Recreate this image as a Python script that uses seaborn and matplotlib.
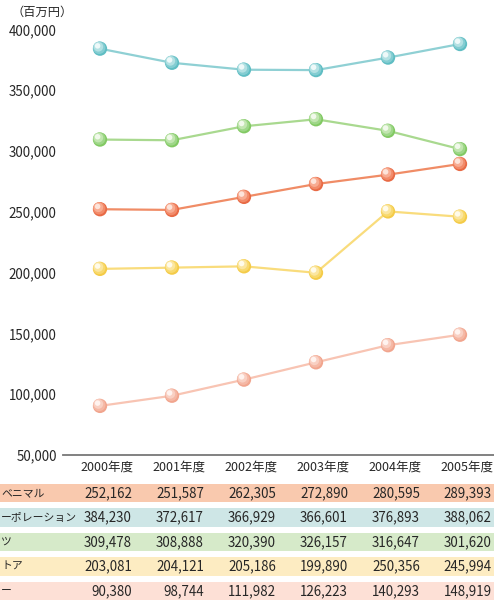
import pandas as pd
import matplotlib
matplotlib.use("Agg")
import matplotlib.pyplot as plt
from matplotlib.transforms import offset_copy
import seaborn as sns

# ---------------------------------------------------------------------------
# data (百万円)
# ---------------------------------------------------------------------------
years = ["2000年度", "2001年度", "2002年度", "2003年度", "2004年度", "2005年度"]
row_labels = ["ベニマル", "ーポレーション", "ツ", "トア", "ー"]

benimaru = [252162, 251587, 262305, 272890, 280595, 289393]
corporation = [384230, 372617, 366929, 366601, 376893, 388062]
tsu = [309478, 308888, 320390, 326157, 316647, 301620]
store = [203081, 204121, 205186, 199890, 250356, 245994]
choon = [90380, 98744, 111982, 126223, 140293, 148919]

series = [benimaru, corporation, tsu, store, choon]

line_colors = ["#f08c66", "#8fd0d4", "#a9d98f", "#f9dc7c", "#f8c4b3"]
# sphere shading layers, darkest (bottom-right rim) to lightest (highlight)
shade_layers = [
    (["#e86a45", "#5fbdc3", "#82c963", "#f4cb48", "#f1a58e"], 106, (0.0, 0.0)),
    (["#f28b6a", "#84cdd2", "#9ed788", "#f8d96d", "#f5b8a5"], 80, (-0.8, 0.9)),
    (["#f8ac92", "#b3e1e3", "#c2e6b0", "#fbe6a0", "#f9d0c3"], 48, (-1.6, 1.9)),
    (["#fde4da", "#eef9f9", "#f1f9eb", "#fffbea", "#fff3ef"], 16, (-2.4, 2.8)),
]
band_colors = ["#f9c9ae", "#cee6e6", "#d6eac9", "#fdecc2", "#fde0d6"]

df = pd.DataFrame({
    "year": years * len(series),
    "name": [lab for lab in row_labels for _ in years],
    "value": [v for s in series for v in s],
})
df["x"] = df["year"].map({y: i for i, y in enumerate(years)})

# ---------------------------------------------------------------------------
# figure
# ---------------------------------------------------------------------------
sns.set_style("white")
plt.rcParams["font.family"] = ["Noto Sans CJK JP", "DejaVu Sans"]
TXT = "#262626"

W, H = 494, 605
fig = plt.figure(figsize=(W / 100, H / 100), dpi=100)

# main axes: x=0 at px 100, step 72 px; y 50k at px 455, 400k at px 29.5
ax_left, ax_bot, ax_top = 63, 455, 29.5
ax = fig.add_axes([ax_left / W, (H - ax_bot) / H, (W - ax_left) / W, (ax_bot - ax_top) / H])
step = 72
x0 = -(100 - ax_left) / step
x1 = 5 + (W - 460) / step
ax.set_xlim(x0, x1)
ax.set_ylim(50000, 400000)

sns.lineplot(data=df, x="x", y="value", hue="name", palette=dict(zip(row_labels, line_colors)),
             linewidth=1.6, legend=False, ax=ax, zorder=2)

for k, (cols, size, (dx, dy)) in enumerate(shade_layers):
    sns.scatterplot(data=df, x="x", y="value", hue="name", palette=dict(zip(row_labels, cols)),
                    s=size, linewidth=0, legend=False, ax=ax, zorder=3 + k, clip_on=False)
    if dx or dy:
        ax.collections[-1].set_offset_transform(
            offset_copy(ax.transData, fig=fig, x=dx, y=dy, units="dots"))

ax.set_yticks(range(50000, 400001, 50000))
ax.set_yticklabels([f"{v:,}" for v in range(50000, 400001, 50000)], fontsize=9.6, color=TXT)
ax.tick_params(axis="y", length=0, pad=4.5)
ax.set_xticks([])
ax.set_xlabel("")
ax.set_ylabel("")
for side in ["top", "right", "left"]:
    ax.spines[side].set_visible(False)
ax.spines["bottom"].set_color("#777777")
ax.spines["bottom"].set_linewidth(1.3)

fig.text(11 / W, 1 - 12 / H, "（百万円）", fontsize=8.8, color=TXT, ha="left", va="center")

# ---------------------------------------------------------------------------
# table under the chart (same x scale as main axes)
# ---------------------------------------------------------------------------
tab_top = 460
tab = fig.add_axes([0, 0, 1, (H - tab_top) / H])
tab.set_xlim(x0 - ax_left / step, x1)
row_h = 24.5
tab.set_ylim((H - 493) / row_h, (tab_top - 493) / row_h)
tab.axis("off")

n_rows = len(row_labels)
tab.barh(range(n_rows), width=x1 - tab.get_xlim()[0], left=tab.get_xlim()[0],
         height=18.5 / row_h, color=band_colors, linewidth=0)

for i, y in enumerate(years):
    tab.text(i + 7 / step, (467 - 493) / row_h, y, fontsize=9, color=TXT, ha="center", va="center")

for r, (lab, vals) in enumerate(zip(row_labels, series)):
    tab.text(tab.get_xlim()[0] + 1 / step, r, lab, fontsize=7.8, color=TXT, ha="left", va="center")
    for i, v in enumerate(vals):
        tab.text(i + 32 / step, r, f"{v:,}", fontsize=9.6, color=TXT, ha="right", va="center")

fig.savefig("out.png", dpi=100)
